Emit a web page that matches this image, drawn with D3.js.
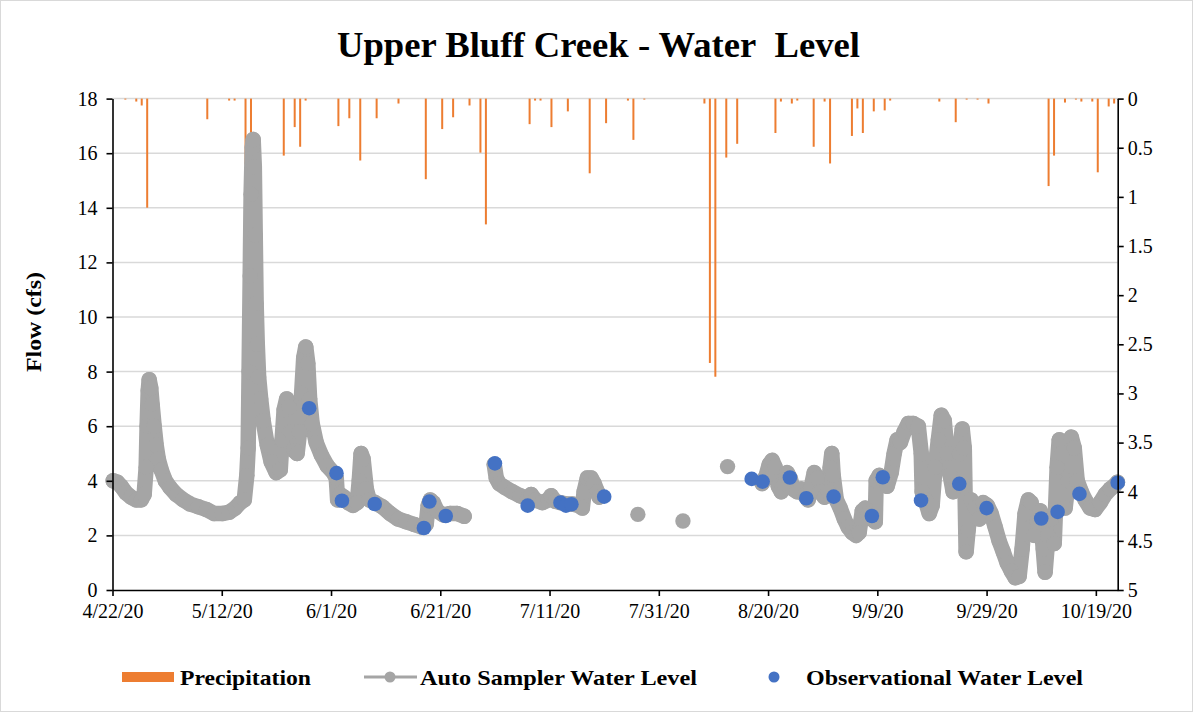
<!DOCTYPE html>
<html><head><meta charset="utf-8">
<script src="https://cdn.jsdelivr.net/npm/d3@7"></script>
<style>
body{margin:0;background:#fff}
svg{display:block}
text{font-family:"Liberation Serif","Times New Roman",serif;fill:#000}
</style>
</head><body><svg id="c" width="1193" height="712"></svg>
<script>
const chartTitle = "Upper Bluff Creek - Water\u00a0 Level";
const yLabel = "Flow (cfs)";
const xTickDates = ["2020-04-22","2020-05-12","2020-06-01","2020-06-21","2020-07-11","2020-07-31","2020-08-20","2020-09-09","2020-09-29","2020-10-19"];
const flowTicks = [0,2,4,6,8,10,12,14,16,18];
const precipTicks = [0,0.5,1,1.5,2,2.5,3,3.5,4,4.5,5];
const seriesNames = ["Precipitation","Auto Sampler Water Level","Observational Water Level"];

const precipDates = ["04-24","04-26","04-27","04-28","05-09","05-13","05-14","05-16","05-17","05-23","05-25","05-26","05-27",
"06-02","06-04","06-06","06-09","06-13","06-18","06-21","06-23","06-26","06-28","06-29",
"07-07","07-08","07-09","07-11","07-14","07-18","07-21","07-25","07-26","07-28",
"08-08","08-09","08-10","08-12","08-14","08-21","08-22","08-24","08-25","08-28","08-30","08-31",
"09-04","09-05","09-06","09-08","09-10","09-11","09-20","09-23","09-25","09-27","09-29",
"10-10","10-11","10-13","10-15","10-16","10-18","10-19","10-21","10-22"];
const precipInches = [0.01,0.03,0.07,1.11,0.21,0.02,0.02,0.67,0.45,0.58,0.29,0.49,0.02,
0.28,0.20,0.63,0.20,0.05,0.82,0.31,0.19,0.07,0.55,1.28,
0.26,0.02,0.02,0.29,0.13,0.76,0.25,0.02,0.42,0.01,
0.05,2.69,2.83,0.60,0.46,0.35,0.03,0.05,0.02,0.49,0.03,0.66,
0.38,0.10,0.35,0.13,0.12,0.02,0.03,0.24,0.01,0.01,0.05,
0.89,0.58,0.04,0.01,0.03,0.03,0.75,0.08,0.05];

const autoTimes = [
"04-22 03","04-22 21","04-23 14","04-24 12","04-25 10","04-26 08","04-27 06","04-27 19","04-28 04","04-28 08",
"04-28 13","04-28 17","04-29 00","04-29 06","04-29 15","04-30 00","04-30 09","04-30 22","05-01 16","05-02 13",
"05-03 16","05-04 23","05-06 05","05-07 17","05-09 04","05-10 15","05-12 02","05-13 09","05-14 11","05-15 09",
"05-16 03","05-16 14","05-16 20","05-17 00","05-17 05","05-17 09","05-17 14","05-17 18","05-17 23","05-18 03",
"05-18 07","05-18 12","05-18 18","05-19 03","05-19 14","05-20 08","05-21 01","05-21 23","05-22 17","05-23 01",
"05-23 10","05-23 21","05-24 08","05-24 17","05-25 06","05-25 19","05-26 06","05-26 15","05-27 00","05-27 09",
"05-27 18","05-28 02","05-28 13","05-29 07","05-30 05","05-31 07","06-01 10","06-01 23","06-02 05","06-02 16",
"06-03 10","06-04 03","06-05 01","06-05 19","06-06 04","06-06 12","06-06 21","06-07 11","06-08 00","06-09 02",
"06-10 09","06-11 20","06-13 07","06-14 18","06-16 06","06-17 17","06-18 10","06-18 19","06-19 04","06-19 17",
"06-20 10","06-21 13","06-22 19","06-24 02","06-25 09",
"06-30 21","07-01 06","07-01 19","07-02 21","07-04 04","07-05 15","07-06 22","07-07 15","07-08 09","07-09 16",
"07-10 18","07-11 07","07-12 01","07-12 23","07-14 01","07-15 04","07-16 06","07-17 00","07-17 08","07-17 22",
"07-18 15","07-19 04","07-19 18","07-20 02",
"07-27 04","08-04 10","08-12 14",
"08-18 22","08-19 16","08-20 05","08-20 18","08-21 07","08-21 21","08-22 10","08-22 23","08-23 12","08-24 01",
"08-24 14","08-25 08","08-26 02","08-26 15","08-27 08","08-27 22","08-28 11","08-29 00","08-29 13","08-30 07",
"08-31 00","08-31 09","08-31 16","08-31 22","09-01 12","09-02 05","09-02 23","09-03 16","09-04 10","09-05 03",
"09-05 16","09-06 06","09-06 19","09-07 08","09-08 01","09-08 15","09-08 19","09-09 08","09-10 02","09-10 19",
"09-11 13","09-12 02","09-12 15","09-13 05","09-13 22","09-14 16","09-15 14","09-16 12","09-17 01","09-17 05",
"09-17 18","09-18 12","09-19 01","09-19 14","09-20 04","09-20 17","09-21 06","09-21 19","09-22 08","09-22 21",
"09-23 11","09-24 00","09-24 13","09-24 22","09-25 06","09-25 15","09-26 04","09-26 22","09-27 16","09-28 09",
"09-29 03","09-29 20","09-30 14","10-01 07","10-02 01","10-02 18","10-03 12","10-04 06","10-04 23","10-05 12",
"10-06 01","10-06 15","10-07 04","10-07 17","10-08 06","10-08 19","10-09 09","10-09 17","10-10 06","10-10 20",
"10-11 09","10-11 22","10-12 07","10-12 20","10-13 09","10-13 23","10-14 12","10-15 01","10-15 14","10-16 08",
"10-17 01","10-17 23","10-18 21","10-19 19","10-20 17","10-21 15","10-22 13","10-22 23"];
const autoFlow = [
4.0,3.95,3.8,3.55,3.4,3.3,3.3,3.5,4.5,6.0,
7.3,7.7,7.4,6.8,6.0,5.3,4.8,4.4,4.0,3.75,
3.5,3.3,3.15,3.05,2.95,2.8,2.8,2.85,3.0,3.2,
3.3,4.2,5.2,8.0,11.5,14.5,16.2,16.5,15.5,13.0,
10.5,9.0,7.8,7.0,6.2,5.3,4.7,4.3,4.4,5.5,
6.6,7.0,6.7,5.8,5.1,5.0,5.8,7.2,8.5,8.9,
8.3,7.0,6.1,5.4,4.95,4.55,4.3,4.1,3.3,3.5,
3.4,3.2,3.1,3.2,4.0,5.0,4.8,3.7,3.3,3.2,
3.05,2.8,2.6,2.5,2.4,2.3,2.4,3.1,3.3,3.2,
2.9,2.75,2.8,2.8,2.7,
4.6,4.1,3.9,3.75,3.6,3.45,3.35,3.5,3.3,3.2,
3.3,3.45,3.25,3.2,3.15,3.15,3.1,3.0,3.6,4.1,
4.1,3.9,3.6,3.4,
2.77,2.53,4.52,
3.9,4.2,4.6,4.75,4.5,3.8,3.6,3.9,4.3,4.1,
3.7,3.6,3.7,3.5,3.3,3.8,4.3,4.1,3.6,3.4,
3.6,4.5,5.0,4.2,3.3,3.0,2.6,2.3,2.1,2.0,
2.1,2.9,3.0,2.8,2.6,2.5,4.0,4.2,4.0,3.8,
4.3,5.0,5.5,5.4,5.8,6.1,6.1,6.0,5.0,3.6,
3.3,2.8,3.1,4.5,5.5,6.4,6.2,5.0,4.2,3.6,
3.9,5.0,5.9,5.2,1.4,2.2,3.3,3.0,2.6,3.2,
3.1,2.8,2.3,1.8,1.4,1.0,0.7,0.45,0.5,1.5,
2.8,3.3,3.2,2.0,2.5,2.9,1.5,0.65,2.0,2.6,
1.7,4.5,5.5,5.0,3.0,4.0,5.6,5.2,4.0,3.6,
3.3,3.0,2.95,3.2,3.5,3.7,3.85,3.95];

const obsDates = ["05-28","06-02","06-03","06-09","06-18","06-19","06-22","07-01","07-07","07-13","07-14","07-15","07-21",
"08-17","08-19","08-24","08-27","09-01","09-08","09-10","09-17","09-24","09-29","10-09","10-12","10-16","10-23"];
const obsFlow = [6.66,4.28,3.27,3.15,2.27,3.24,2.71,4.64,3.09,3.20,3.09,3.14,3.42,
4.07,3.97,4.12,3.36,3.42,2.71,4.13,3.28,3.89,3.00,2.62,2.86,3.52,3.93];

// ---------- drawing ----------
const svg = d3.select("#c");
const W = 1193, H = 712;
const plot = {left:112.5, right:1117.7, top:98.6, bottom:590};
const pDay = d3.utcParse("%Y-%m-%d");
const pHour = d3.utcParse("%Y-%m-%d %H");
const x = d3.scaleUtc().domain([pDay("2020-04-22"), pDay("2020-10-23")]).range([plot.left, plot.right]);
const yL = d3.scaleLinear().domain([0,18]).range([plot.bottom, plot.top]);
const yR = d3.scaleLinear().domain([0,5]).range([plot.top, plot.bottom]);
const dayPx = x(pDay("2020-04-23")) - x(pDay("2020-04-22"));

const GRAY = "#a5a5a5", BLUE = "#4472c4", ORANGE = "#ed7d31";

svg.append("rect").attr("x",0.5).attr("y",0.5).attr("width",W-1).attr("height",H-1)
  .attr("fill","#fff").attr("stroke","#d9d9d9");

// title
svg.append("text").attr("x",598.5).attr("y",57).attr("text-anchor","middle")
  .attr("font-size",36).attr("font-weight","bold")
  .attr("textLength",523).attr("lengthAdjust","spacingAndGlyphs").text(chartTitle);

// gridlines
svg.append("g").selectAll("line").data(flowTicks.filter(d=>d>0)).join("line")
  .attr("x1",plot.left).attr("x2",plot.right).attr("y1",d=>yL(d)).attr("y2",d=>yL(d))
  .attr("stroke","#d9d9d9").attr("stroke-width",1.5);

// precipitation bars (hang from top, secondary reversed axis)
const precip = precipDates.map((d,i)=>({date:pDay("2020-"+d), v:precipInches[i]}));
svg.append("g").selectAll("rect").data(precip).join("rect")
  .attr("x", d=>x(d.date) + 0.35*dayPx - 1)
  .attr("y", yR(0))
  .attr("width", 2)
  .attr("height", d=>yR(d.v)-yR(0))
  .attr("fill", ORANGE);

// auto sampler series
const auto = autoTimes.map((t,i)=>({date:pHour("2020-"+t), v:autoFlow[i]}));
const segs = [];
auto.forEach((d,i)=>{
  if(i===0 || (d.date - auto[i-1].date) > 2*864e5) segs.push([]);
  segs[segs.length-1].push(d);
});
const line = d3.line().x(d=>x(d.date)).y(d=>yL(d.v));
const gAuto = svg.append("g");
gAuto.selectAll("path").data(segs.filter(s=>s.length>1)).join("path")
  .attr("d", line).attr("fill","none").attr("stroke",GRAY)
  .attr("stroke-width",15.5).attr("stroke-linecap","round").attr("stroke-linejoin","round");
gAuto.selectAll("circle").data(auto).join("circle")
  .attr("cx",d=>x(d.date)).attr("cy",d=>yL(d.v)).attr("r",7.7).attr("fill",GRAY);

// observational
const obs = obsDates.map((d,i)=>({date:pDay("2020-"+d), v:obsFlow[i]}));
svg.append("g").selectAll("circle").data(obs).join("circle")
  .attr("cx",d=>x(d.date)).attr("cy",d=>yL(d.v)).attr("r",7.3).attr("fill",BLUE);

// axes
const axStyle = g => {
  g.selectAll("path.domain").attr("stroke","#000").attr("stroke-width",1.6);
  g.selectAll(".tick line").attr("stroke","#000").attr("stroke-width",1.6);
  g.selectAll(".tick text").attr("font-family","Liberation Serif").attr("font-size",20).attr("fill","#000");
};
svg.append("g").attr("transform",`translate(${plot.left},0)`)
  .call(d3.axisLeft(yL).tickValues(flowTicks).tickSize(6).tickSizeOuter(0).tickPadding(9).tickFormat(d3.format("d")))
  .call(axStyle);
svg.append("g").attr("transform",`translate(${plot.right},0)`)
  .call(d3.axisRight(yR).tickValues(precipTicks).tickSize(6).tickSizeOuter(0).tickPadding(4).tickFormat(d=>String(d)))
  .call(axStyle);
svg.append("g").attr("transform",`translate(0,${plot.bottom})`)
  .call(d3.axisBottom(x).tickValues(xTickDates.map(pDay)).tickSize(6).tickSizeOuter(0).tickPadding(8)
    .tickFormat(d3.utcFormat("%-m/%-d/%y")))
  .call(axStyle);

// y label
svg.append("text").attr("transform","translate(41,322) rotate(-90)").attr("text-anchor","middle")
  .attr("font-size",22).attr("font-weight","bold")
  .attr("textLength",100).attr("lengthAdjust","spacingAndGlyphs").text(yLabel);

// legend
const lg = svg.append("g").attr("font-size",22).attr("font-weight","bold");
lg.append("rect").attr("x",122).attr("y",672).attr("width",52).attr("height",10).attr("fill",ORANGE);
lg.append("text").attr("x",180).attr("y",685).attr("textLength",131).attr("lengthAdjust","spacingAndGlyphs").text(seriesNames[0]);
lg.append("line").attr("x1",364).attr("x2",417).attr("y1",677).attr("y2",677).attr("stroke",GRAY).attr("stroke-width",3);
lg.append("circle").attr("cx",390).attr("cy",677).attr("r",5.5).attr("fill",GRAY);
lg.append("text").attr("x",420).attr("y",685).attr("textLength",277).attr("lengthAdjust","spacingAndGlyphs").text(seriesNames[1]);
lg.append("circle").attr("cx",774).attr("cy",677).attr("r",5.5).attr("fill",BLUE);
lg.append("text").attr("x",806).attr("y",685).attr("textLength",277).attr("lengthAdjust","spacingAndGlyphs").text(seriesNames[2]);
</script>
</body></html>
